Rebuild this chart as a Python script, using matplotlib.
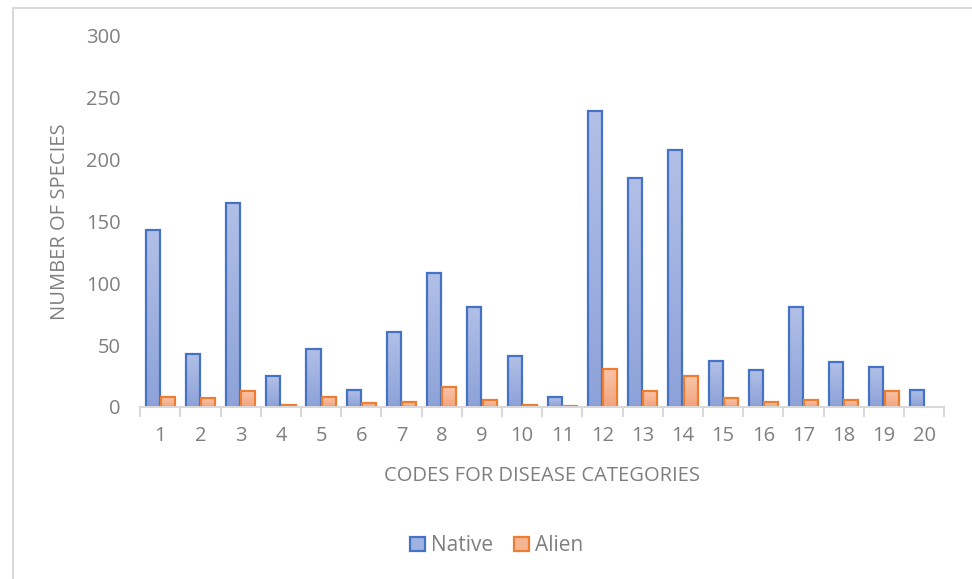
import numpy as np
import matplotlib
matplotlib.use("Agg")
import matplotlib.pyplot as plt
from matplotlib.patches import Rectangle, Patch
from matplotlib.lines import Line2D
from matplotlib.colors import LinearSegmentedColormap

# Disease category codes and species counts
categories = [str(i) for i in range(1, 21)]
native = [143, 43, 165, 25, 47, 14, 61, 108, 81, 41, 8, 239, 185, 208, 37, 30, 81, 36, 32, 14]
alien = [8, 7, 13, 2, 8, 3, 4, 16, 6, 2, 1, 31, 13, 25, 7, 4, 6, 6, 13, 0]
y_ticks = [0, 50, 100, 150, 200, 250, 300]

plt.rcParams['font.family'] = ['Open Sans', 'DejaVu Sans']
text_color = '#7f7f7f'

fig = plt.figure(figsize=(9.72, 5.79), dpi=100)
ax = fig.add_axes([0.1443, 0.2971, 0.8272, 0.6408])

x = np.arange(len(categories))
width = 0.35
offset = 0.19

native_edge = '#4472c4'
alien_edge = '#ed7d31'
native_cmap = LinearSegmentedColormap.from_list('nat', ['#8da2d8', '#b2c0e7'])
alien_cmap = LinearSegmentedColormap.from_list('ali', ['#f3a47c', '#f9c5aa'])
grad = np.linspace(0, 1, 64).reshape(-1, 1)


def gradient_bars(xs, heights, cmap, edge):
    for xc, h in zip(xs, heights):
        if h <= 0:
            continue
        x0, x1 = xc - width / 2, xc + width / 2
        ax.imshow(grad, cmap=cmap, origin='lower', aspect='auto',
                  extent=(x0, x1, 0, h), zorder=2, interpolation='bilinear')
        ax.add_patch(Rectangle((x0, 0), width, h, fill=False,
                               edgecolor=edge, linewidth=1.6, zorder=3))


gradient_bars(x - offset, native, native_cmap, native_edge)
gradient_bars(x + offset, alien, alien_cmap, alien_edge)

ax.set_xlim(-0.5, len(categories) - 0.5)
ax.set_ylim(0, 300)
ax.set_yticks(y_ticks)
ax.set_yticklabels([str(v) for v in y_ticks])
ax.set_xticks(x)
ax.set_xticklabels(categories)
ax.set_xticks(np.arange(-0.5, len(categories)), minor=True)

for s in ['top', 'right', 'left']:
    ax.spines[s].set_visible(False)
ax.spines['bottom'].set_color('#d9d9d9')
ax.spines['bottom'].set_linewidth(1.5)
ax.spines['bottom'].set_zorder(4)

ax.tick_params(axis='y', length=0, pad=14, labelsize=14.5, labelcolor=text_color)
ax.tick_params(axis='x', which='major', length=0, pad=14, labelsize=14.5,
               labelcolor=text_color)
ax.tick_params(axis='x', which='minor', length=7, width=1.5, color='#d9d9d9')

ax.set_ylabel('NUMBER OF SPECIES', fontsize=14.5, color=text_color, labelpad=12)
ax.set_xlabel('CODES FOR DISEASE CATEGORIES', fontsize=14.5, color=text_color,
              labelpad=14)

handles = [
    Patch(facecolor='#a0b2e0', edgecolor=native_edge, linewidth=1.6, label='Native'),
    Patch(facecolor='#f6b592', edgecolor=alien_edge, linewidth=1.6, label='Alien'),
]
leg = fig.legend(handles=handles, loc='center', bbox_to_anchor=(0.511, 0.057),
                 ncol=2, frameon=False, fontsize=15, handlelength=0.7,
                 handleheight=0.7, handletextpad=0.3, columnspacing=1.0)
for t in leg.get_texts():
    t.set_color(text_color)

# chart frame
fig.add_artist(Line2D([13 / 972, 13 / 972], [0, 1 - 8 / 579], transform=fig.transFigure,
                      color='#d9d9d9', linewidth=1.5))
fig.add_artist(Line2D([13 / 972, 1], [1 - 8 / 579, 1 - 8 / 579], transform=fig.transFigure,
                      color='#d9d9d9', linewidth=1.5))

fig.savefig('out.png', dpi=100, facecolor='white')
